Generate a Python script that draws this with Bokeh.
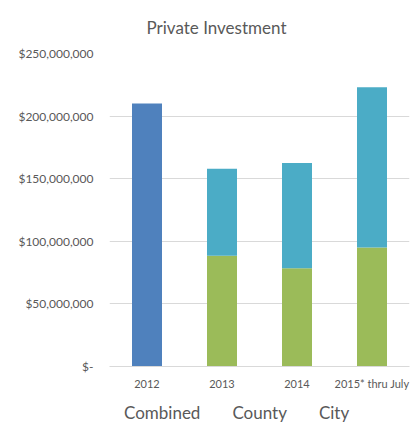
from bokeh.plotting import figure
from bokeh.layouts import column
from bokeh.models import (ColumnDataSource, FactorRange, CustomJSTickFormatter, Legend,
                          LegendItem, FixedTicker, Label, Range1d, CDSView, IndexFilter)
from bokeh.embed import file_html
from bokeh.resources import INLINE

years = ["2012", "2013", "2014", "2015* thru July"]
combined = [210_000_000, 0, 0, 0]
county = [0, 88_500_000, 78_500_000, 95_000_000]
city = [0, 69_500_000, 84_000_000, 128_000_000]
y_ticks = [0, 50_000_000, 100_000_000, 150_000_000, 200_000_000, 250_000_000]
series = ["Combined", "County", "City"]
title_text = "Private Investment"

colors = {"Combined": "#4F81BD", "County": "#9BBB59", "City": "#4BACC6"}
FONT = "Lato"
TEXT = "#595959"

src = ColumnDataSource(dict(years=years, Combined=combined, County=county, City=city))

# ---- title strip (frame aligned with main chart frame, which starts 109px in) ----
pt = figure(width=413, height=45, min_border=0, x_axis_location=None, y_axis_location=None,
            output_backend="svg", toolbar_location=None, x_range=Range1d(0, 1), y_range=Range1d(0, 1))
pt.outline_line_color = None
pt.grid.visible = False
pt.add_layout(Label(x=107, y=18, x_units="screen", y_units="screen", text=title_text,
                    text_font=FONT, text_font_size="17px", text_color=TEXT,
                    text_align="center", text_baseline="middle"))

# ---- main chart ----
p = figure(x_range=FactorRange(*years), y_range=(0, 250_000_000),
           frame_width=300, frame_height=313, output_backend="svg", toolbar_location=None,
           min_border_left=109, min_border_right=4, min_border_top=8,
           min_border_bottom=29)

p.vbar_stack(series, x="years", width=0.4, source=src,
             color=[colors[s] for s in series], line_color=None)

p.x_range.range_padding = 0.0
p.x_range.group_padding = 0.0
p.x_range.factor_padding = 0.0

p.outline_line_color = None
p.xgrid.grid_line_color = None
p.ygrid.grid_line_color = "#D9D9D9"
p.ygrid.grid_line_width = 1

p.yaxis.ticker = FixedTicker(ticks=y_ticks)
p.yaxis.formatter = CustomJSTickFormatter(code="""
    if (tick == 0) { return "$-"; }
    return "$" + Math.round(tick).toString().replace(/\\B(?=(\\d{3})+(?!\\d))/g, ",");
""")
p.yaxis.axis_line_color = None
p.yaxis.major_tick_line_color = None
p.yaxis.minor_tick_line_color = None
p.yaxis.major_tick_out = 0
p.yaxis.minor_tick_out = 0
p.yaxis.major_label_text_font = FONT
p.yaxis.major_label_text_font_size = "12px"
p.yaxis.major_label_text_color = TEXT
p.yaxis.major_label_standoff = 16

p.xaxis.axis_line_color = "#D9D9D9"
p.xaxis.major_tick_line_color = None
p.xaxis.minor_tick_line_color = None
p.xaxis.major_tick_out = 0
p.xaxis.minor_tick_out = 0
p.xaxis.major_label_text_font = FONT
p.xaxis.major_label_text_font_size = "11px"
p.xaxis.major_label_text_color = TEXT
p.xaxis.major_label_standoff = 10

# ---- legend strip ----
pl = figure(width=413, height=38, min_border=0, x_axis_location=None, y_axis_location=None,
            output_backend="svg", toolbar_location=None,
            x_range=FactorRange(*years), y_range=Range1d(-2, -1))
pl.outline_line_color = None
pl.grid.visible = False
lr = pl.vbar_stack(series, x="years", width=0.4, source=src,
                   color=[colors[s] for s in series], line_color=None,
                   view=CDSView(filter=IndexFilter([])))
legend = Legend(items=[LegendItem(label=n, renderers=[rr]) for n, rr in zip(series, lr)],
                orientation="horizontal", location=(0, 10),
                label_text_font=FONT, label_text_font_size="17px",
                label_text_color=TEXT, glyph_width=11, glyph_height=11,
                spacing=17, label_standoff=4, border_line_color=None,
                background_fill_alpha=0, padding=0, margin=0)
pl.add_layout(legend, "center")

layout = column(pt, p, pl, spacing=0)

open("out.html", "w").write(file_html(layout, INLINE))
